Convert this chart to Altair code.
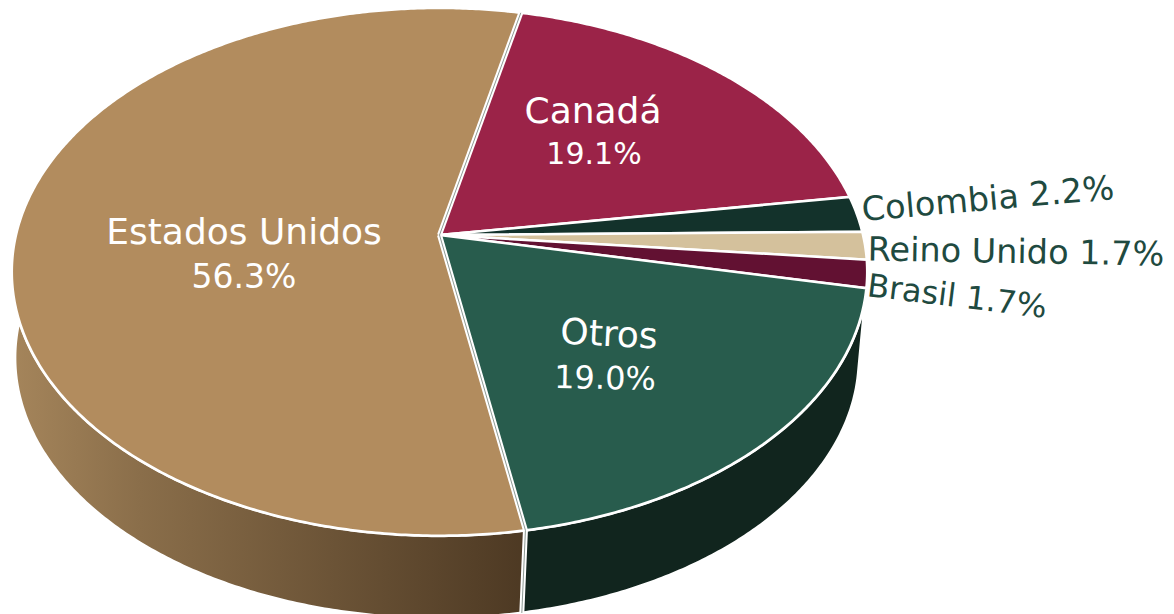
import math
import altair as alt

# Values
names = ["Canadá", "Colombia", "Reino Unido", "Brasil", "Otros", "Estados Unidos"]
shares = [19.1, 2.2, 1.7, 1.7, 19.0, 56.3]
colors = ["#9B2348", "#13322B", "#D4C19C", "#621132", "#285C4D", "#B28C5E"]
label_texts = ["Canadá", "19.1%", "Colombia 2.2%", "Reino Unido 1.7%", "Brasil 1.7%",
               "Otros", "19.0%", "Estados Unidos", "56.3%"]

# Perspective of the tilted disc (picture space, minus the 8px page margin)
CX, CY = 439.5 - 8, 235 - 8
RX, RY, K = 423.5, 258.7, 0.1396
START = 12.6           # clockwise degrees from the top at which Canadá begins
SHRINK, DROP, SHIFT = 0.987, 86.5, -2.5


def rim(deg, f=1.0, drop=0.0, shift=0.0):
    t = math.radians(deg)
    c, s = math.sin(t), math.cos(t)
    w = 1 + K * s
    return [CX + shift + f * RX * c / w, CY + drop - f * RY * s / w]


def arc_points(a0, a1, f=1.0, drop=0.0, shift=0.0):
    n = max(2, int(abs(a1 - a0) * 2))
    return [rim(a0 + (a1 - a0) * i / n, f, drop, shift) for i in range(n + 1)]


def feature(ring, **props):
    ring = ring + [ring[0]]
    return {"type": "Feature", "properties": props,
            "geometry": {"type": "Polygon", "coordinates": [ring]}}


def polyline(points):
    return {"type": "Feature", "properties": {},
            "geometry": {"type": "LineString", "coordinates": points}}


edges = [START]
for v in shares:
    edges.append(edges[-1] + v * 3.6)

tops = []
for name, a0, a1 in zip(names, edges[:-1], edges[1:]):
    tops.append(feature([[CX, CY]] + arc_points(a0, a1), name=name))


def wall(a0, a1):
    return [feature(arc_points(a0, a1) + arc_points(a1, a0, SHRINK, DROP, SHIFT), name="wall")]


# The two wide seams: Otros / Estados Unidos (with its wall edge) and Estados Unidos / Canadá
seams = [
    polyline([[CX, CY], rim(edges[5]), rim(edges[5], SHRINK, DROP, SHIFT)]),
    polyline([[CX, CY], rim(edges[0])]),
]

proj = dict(type="identity", scale=1, translate=[0, 0])

wall_us = alt.Chart(alt.Data(values=wall(edges[5], 290))).mark_geoshape(
    stroke="white", strokeWidth=3,
    fill=alt.Gradient(gradient="linear", x1=0, x2=1, y1=0, y2=0, stops=[
        alt.GradientStop(color="#A5855B", offset=0),
        alt.GradientStop(color="#8A6E4A", offset=0.25),
        alt.GradientStop(color="#4D3923", offset=1)]),
).project(**proj)

wall_otros = alt.Chart(alt.Data(values=wall(edges[4], edges[5]))).mark_geoshape(
    stroke="white", strokeWidth=3, fill="#11251E",
).project(**proj)

top = alt.Chart(alt.Data(values=tops)).mark_geoshape(
    stroke="white", strokeWidth=2.5,
).encode(
    color=alt.Color("properties.name:N", legend=None,
                    scale=alt.Scale(domain=names, range=colors))
).project(**proj)

seam_white = alt.Chart(alt.Data(values=seams)).mark_geoshape(
    filled=False, stroke="white", strokeWidth=5,
).project(**proj)
seam_core = alt.Chart(alt.Data(values=seams)).mark_geoshape(
    filled=False, stroke="#8E9A94", strokeWidth=1,
).project(**proj)

WHITE, DARK = "white", "#1F4A40"
label_style = [
    # x, y, angle, size, colour
    (593, 112, 0, 36, WHITE), (594, 155, 0, 30, WHITE),
    (988, 200, 355, 33.5, DARK), (1016, 253, 1, 33.5, DARK), (957, 297, 7, 32, DARK),
    (609, 335, 3, 36, WHITE), (605, 379, 1, 32, WHITE),
    (244, 233, 0, 36, WHITE), (244, 278, 0, 33, WHITE),
]

text_layers = []
for label, (x, y, ang, size, col) in zip(label_texts, label_style):
    text_layers.append(
        alt.Chart(alt.Data(values=[{"t": label}])).mark_text(
            font="DejaVu Sans", fontSize=size, angle=ang, color=col,
            align="center", baseline="middle",
        ).encode(x=alt.value(x - 8), y=alt.value(y - 8), text="t:N")
    )

chart = alt.layer(wall_us, wall_otros, top, seam_white, seam_core, *text_layers).properties(
    width=1158, height=606, padding=0,
    autosize=alt.AutoSizeParams(type="none"),
).configure_view(stroke=None)

chart.save("out.html", embed_options={"renderer": "svg", "actions": False})
